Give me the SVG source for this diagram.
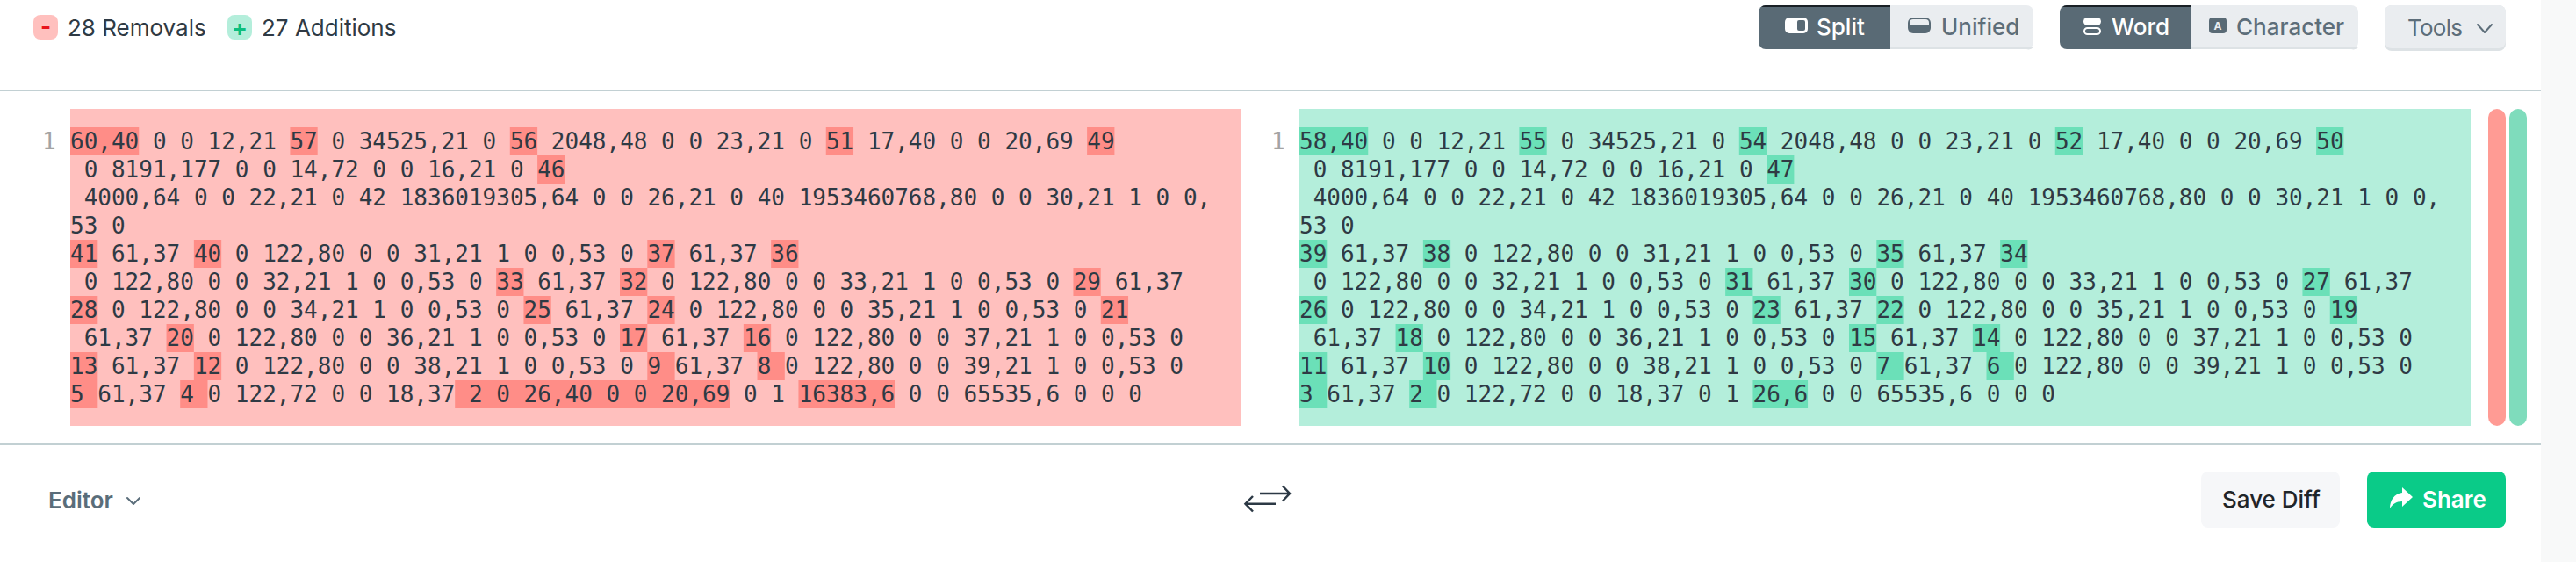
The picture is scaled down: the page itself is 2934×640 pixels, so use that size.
<svg xmlns="http://www.w3.org/2000/svg" width="2934" height="640" viewBox="0 0 2934 640">
<style>
text{white-space:pre}
.ui{font-family:Inter,"Liberation Sans",sans-serif;font-size:26px}
.code{font-family:"DejaVu Sans Mono","Liberation Mono",monospace;font-size:26px;fill:#2f3a44}
.ln{font-family:"DejaVu Sans Mono","Liberation Mono",monospace;font-size:26px;fill:#a3a3a3}
.sep{fill:#c2d0d3}
.dark{fill:#596a75}
.light{fill:#eaedf0}
.lb{fill:#dde2e5}
.on{fill:#fff;font-weight:500}
.off{fill:#5d6e7a;font-weight:500}
.rem .bg{fill:#ffc0be}
.rem .hl{fill:#ff8d87}
.add .bg{fill:#b4eedb}
.add .hl{fill:#6be0b8}
.h2{height:32px;width:31.3px}
.chev{fill:none;stroke-width:2;stroke-linecap:round;stroke-linejoin:round}
</style>
<defs>
<g id="hl-common">
<rect x="80" y="145" width="78.25" height="32"/>
<rect class="h2" x="330.4" y="145"/>
<rect class="h2" x="580.8" y="145"/>
<rect class="h2" x="940.75" y="145"/>
<rect class="h2" x="1238.1" y="145"/>
<rect class="h2" x="612.1" y="177"/>
<rect class="h2" x="80" y="273"/>
<rect class="h2" x="220.85" y="273"/>
<rect class="h2" x="737.3" y="273"/>
<rect class="h2" x="878.15" y="273"/>
<rect class="h2" x="565.15" y="305"/>
<rect class="h2" x="706" y="305"/>
<rect class="h2" x="1222.45" y="305"/>
<rect class="h2" x="80" y="337"/>
<rect class="h2" x="596.45" y="337"/>
<rect class="h2" x="737.3" y="337"/>
<rect class="h2" x="1253.75" y="337"/>
<rect class="h2" x="189.55" y="369"/>
<rect class="h2" x="706" y="369"/>
<rect class="h2" x="846.85" y="369"/>
<rect class="h2" x="80" y="401"/>
<rect class="h2" x="220.85" y="401"/>
<rect class="h2" x="737.3" y="401"/>
<rect class="h2" x="862.5" y="401"/>
<rect class="h2" x="80" y="433"/>
<rect class="h2" x="205.2" y="433"/>
</g>
</defs>
<rect width="2934" height="640" fill="#fff"/>
<rect x="2894" width="40" height="640" fill="#f8f9f9"/>
<g id="summary">
<rect x="38" y="17" width="28" height="28" rx="8" fill="#ffc0be"/>
<text class="ui" x="52" y="39" text-anchor="middle" font-weight="700" fill="#e8141c">-</text>
<text class="ui" x="77" y="41" fill="#2f3a44">28 Removals</text>
<rect x="259" y="17" width="28" height="28" rx="8" fill="#b4eedb"/>
<text class="ui" x="273" y="41" text-anchor="middle" font-weight="700" fill="#0cbf7f">+</text>
<text class="ui" x="298" y="41" fill="#2f3a44">27 Additions</text>
</g>
<g id="view-toggle">
<path class="light" d="M2153 6H2308a8 8 0 0 1 8 8V48a8 8 0 0 1-8 8H2153Z"/>
<path class="lb" d="M2153 54H2316a8 8 0 0 1-8 2H2153Z"/>
<path class="dark" d="M2011 6H2153V56H2011a8 8 0 0 1-8-8V14a8 8 0 0 1 8-8Z"/>
<path fill="#1a2026" d="M2011 6H2153V8H2006a8 8 0 0 1 5-2Z"/>
<rect x="2033" y="20" width="26" height="18" rx="5" fill="#fff"/>
<rect x="2047" y="23" width="9" height="12" rx="2" fill="#596a75"/>
<text class="ui on" x="2069" y="40">Split</text>
<rect x="2174" y="21" width="24" height="16" rx="5" fill="none" stroke="#596a75" stroke-width="2"/>
<path fill="#596a75" d="M2174 29H2198V32a5 5 0 0 1-5 5H2179a5 5 0 0 1-5-5Z"/>
<text class="ui off" x="2211" y="40">Unified</text>
</g>
<g id="granularity-toggle">
<path class="light" d="M2496 6H2678a8 8 0 0 1 8 8V48a8 8 0 0 1-8 8H2496Z"/>
<path class="lb" d="M2496 54H2686a8 8 0 0 1-8 2H2496Z"/>
<path class="dark" d="M2354 6H2496V56H2354a8 8 0 0 1-8-8V14a8 8 0 0 1 8-8Z"/>
<path fill="#1a2026" d="M2354 6H2496V8H2349a8 8 0 0 1 5-2Z"/>
<rect x="2373" y="20" width="20" height="9" rx="4.5" fill="#fff"/>
<rect x="2374" y="32" width="18" height="7" rx="3.5" fill="none" stroke="#fff" stroke-width="2"/>
<text class="ui on" x="2405" y="40">Word</text>
<rect x="2516" y="20" width="20" height="18" rx="4" fill="#596a75"/>
<text x="2526" y="34" text-anchor="middle" font-family="Inter,'Liberation Sans',sans-serif" font-size="12" font-weight="700" fill="#eaedf0">A</text>
<text class="ui off" x="2547" y="40">Character</text>
</g>
<g id="tools">
<rect x="2716" y="6" width="138" height="52" rx="8" class="lb"/>
<rect x="2716" y="6" width="138" height="49" rx="8" class="light"/>
<text class="ui off" x="2742" y="41" style="font-weight:400" textLength="63">Tools</text>
<path class="chev" stroke="#5d6e7a" d="M2822 28L2830 37L2838 28"/>
</g>
<rect class="sep" y="102" width="2894" height="2"/>
<g id="left-panel" class="rem">
<rect class="bg" x="80" y="124" width="1334" height="361"/>
<use href="#hl-common" fill="#ff8d87"/>
<rect class="hl" x="518.2" y="433" width="313" height="32"/>
<rect class="hl" x="909.45" y="433" width="109.55" height="32"/>
<text class="ln" x="48" y="170">1</text>
<g class="code">
<text x="80" y="170">60,40 0 0 12,21 57 0 34525,21 0 56 2048,48 0 0 23,21 0 51 17,40 0 0 20,69 49</text>
<text x="80" y="202"> 0 8191,177 0 0 14,72 0 0 16,21 0 46</text>
<text x="80" y="234"> 4000,64 0 0 22,21 0 42 1836019305,64 0 0 26,21 0 40 1953460768,80 0 0 30,21 1 0 0,</text>
<text x="80" y="266">53 0</text>
<text x="80" y="298">41 61,37 40 0 122,80 0 0 31,21 1 0 0,53 0 37 61,37 36</text>
<text x="80" y="330"> 0 122,80 0 0 32,21 1 0 0,53 0 33 61,37 32 0 122,80 0 0 33,21 1 0 0,53 0 29 61,37</text>
<text x="80" y="362">28 0 122,80 0 0 34,21 1 0 0,53 0 25 61,37 24 0 122,80 0 0 35,21 1 0 0,53 0 21</text>
<text x="80" y="394"> 61,37 20 0 122,80 0 0 36,21 1 0 0,53 0 17 61,37 16 0 122,80 0 0 37,21 1 0 0,53 0</text>
<text x="80" y="426">13 61,37 12 0 122,80 0 0 38,21 1 0 0,53 0 9 61,37 8 0 122,80 0 0 39,21 1 0 0,53 0</text>
<text x="80" y="458">5 61,37 4 0 122,72 0 0 18,37 2 0 26,40 0 0 20,69 0 1 16383,6 0 0 65535,6 0 0 0</text>
</g>
</g>
<g id="right-panel" class="add" transform="translate(1400 0)">
<rect class="bg" x="80" y="124" width="1334" height="361"/>
<use href="#hl-common" fill="#6be0b8"/>
<rect class="hl" x="596.45" y="433" width="62.6" height="32"/>
<text class="ln" x="48" y="170">1</text>
<g class="code">
<text x="80" y="170">58,40 0 0 12,21 55 0 34525,21 0 54 2048,48 0 0 23,21 0 52 17,40 0 0 20,69 50</text>
<text x="80" y="202"> 0 8191,177 0 0 14,72 0 0 16,21 0 47</text>
<text x="80" y="234"> 4000,64 0 0 22,21 0 42 1836019305,64 0 0 26,21 0 40 1953460768,80 0 0 30,21 1 0 0,</text>
<text x="80" y="266">53 0</text>
<text x="80" y="298">39 61,37 38 0 122,80 0 0 31,21 1 0 0,53 0 35 61,37 34</text>
<text x="80" y="330"> 0 122,80 0 0 32,21 1 0 0,53 0 31 61,37 30 0 122,80 0 0 33,21 1 0 0,53 0 27 61,37</text>
<text x="80" y="362">26 0 122,80 0 0 34,21 1 0 0,53 0 23 61,37 22 0 122,80 0 0 35,21 1 0 0,53 0 19</text>
<text x="80" y="394"> 61,37 18 0 122,80 0 0 36,21 1 0 0,53 0 15 61,37 14 0 122,80 0 0 37,21 1 0 0,53 0</text>
<text x="80" y="426">11 61,37 10 0 122,80 0 0 38,21 1 0 0,53 0 7 61,37 6 0 122,80 0 0 39,21 1 0 0,53 0</text>
<text x="80" y="458">3 61,37 2 0 122,72 0 0 18,37 0 1 26,6 0 0 65535,6 0 0 0</text>
</g>
</g>
<g id="minimap">
<rect x="2834" y="124" width="20" height="361" rx="10" fill="#ff9b94"/>
<rect x="2858" y="124" width="20" height="361" rx="10" fill="#7fdcbc"/>
</g>
<rect class="sep" y="505" width="2894" height="2"/>
<g id="editor">
<text class="ui" x="55" y="579" font-weight="600" fill="#5a6d7a">Editor</text>
<path class="chev" stroke="#5a6d7a" d="M145 567L152 574L159 567"/>
</g>
<g id="swap" fill="none" stroke="#2c3945" stroke-width="2.5">
<path d="M1435 562H1469M1461 553.5L1469 562L1461 570.5"/>
<path d="M1453 573.7H1419M1427 565L1418.5 573.7L1427 582.5"/>
</g>
<g id="save-diff">
<rect x="2507" y="537" width="158" height="64" rx="8" fill="#f6f7f9"/>
<text class="ui" x="2531" y="578" font-weight="500" fill="#1f2529">Save Diff</text>
</g>
<g id="share">
<rect x="2696" y="537" width="158" height="64" rx="8" fill="#0acb88"/>
<path fill="#fff" d="M2736 555L2748 566L2736 577V571C2729 571 2725 574 2722 579C2722 570 2727 562 2736 561Z"/>
<text class="ui" x="2759" y="578" font-weight="600" fill="#fff">Share</text>
</g>
</svg>
